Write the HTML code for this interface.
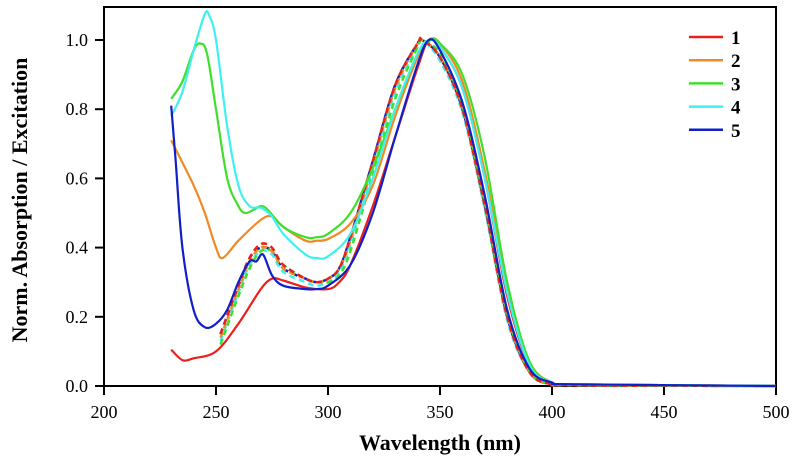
<!DOCTYPE html>
<html><head><meta charset="utf-8"><style>
html,body{margin:0;padding:0;background:#fff;}
svg{display:block;font-family:"Liberation Serif",serif;}
</style></head><body>
<svg id="chart" width="797" height="471">
<rect x="104" y="7" width="672" height="379" fill="none" stroke="#000" stroke-width="2"/>
<g id="axes"></g>
<g id="series"></g>
<g id="legend"></g>
<text x="440" y="450" text-anchor="middle" font-size="22" font-weight="bold">Wavelength (nm)</text>
<text transform="translate(27,200) rotate(-90)" text-anchor="middle" font-size="22" font-weight="bold">Norm. Absorption / Excitation</text>
</svg>
<script>
const xTicks=[200,250,300,350,400,450,500];
const yTicks=[0.0,0.2,0.4,0.6,0.8,1.0];
const seriesNames=["1","2","3","4","5"];
const colors=["#e8201e","#f08a24","#3ee02a","#3ef0f0","#1020c8"];
const absX1=[230,235,240,250,260,270,275,280,290,300,305,310,320,330,340,345,350,360,370,380,390,400,410,500];
const absY1=[0.105,0.075,0.08,0.10,0.18,0.28,0.31,0.305,0.285,0.28,0.30,0.35,0.52,0.72,0.92,1.0,0.98,0.86,0.60,0.26,0.06,0.01,0.005,0];
const absX2=[230,240,245,250,253,260,270,275,280,290,295,300,310,320,330,340,345,350,360,370,380,390,400,410,500];
const absY2=[0.71,0.58,0.50,0.40,0.37,0.42,0.48,0.49,0.46,0.42,0.42,0.425,0.47,0.58,0.78,0.95,1.0,0.99,0.88,0.62,0.28,0.07,0.01,0.005,0];
const absX3=[230,235,240,243,246,250,255,260,263,267,270,273,280,290,295,300,310,320,330,340,346,350,360,370,380,390,400,410,500];
const absY3=[0.83,0.88,0.97,0.99,0.96,0.80,0.60,0.52,0.50,0.51,0.52,0.51,0.46,0.43,0.43,0.44,0.50,0.63,0.80,0.96,1.0,0.99,0.90,0.66,0.30,0.07,0.01,0.005,0];
const absX4=[230,235,240,245,247,250,255,260,265,270,275,280,290,295,300,310,320,330,340,345,350,360,370,380,390,400,410,500];
const absY4=[0.78,0.85,0.97,1.075,1.07,1.0,0.75,0.58,0.52,0.515,0.49,0.44,0.38,0.37,0.375,0.44,0.60,0.80,0.96,1.0,0.98,0.86,0.60,0.27,0.06,0.01,0.005,0];
const absX5=[230,232,235,240,245,250,255,260,265,268,271,275,280,290,295,300,310,320,330,340,345,350,360,370,380,390,400,410,500];
const absY5=[0.81,0.65,0.40,0.22,0.17,0.18,0.22,0.30,0.36,0.36,0.38,0.32,0.29,0.28,0.28,0.29,0.35,0.50,0.72,0.93,1.0,0.97,0.82,0.55,0.22,0.05,0.01,0.005,0];
const excX=[252,260,265,270,275,280,290,295,300,305,310,320,330,340,342,350,360,370,380,390,400,410,500];
const excY1=[0.15,0.29,0.37,0.41,0.40,0.35,0.31,0.30,0.31,0.34,0.43,0.65,0.87,0.99,1.0,0.95,0.80,0.52,0.20,0.04,0.005,0.002,0];
const excY2=[0.14,0.28,0.36,0.40,0.39,0.34,0.31,0.30,0.31,0.34,0.42,0.64,0.86,0.99,1.0,0.95,0.80,0.52,0.20,0.04,0.005,0.002,0];
const excY3=[0.12,0.26,0.34,0.39,0.39,0.35,0.31,0.30,0.30,0.32,0.39,0.61,0.83,0.98,1.0,0.96,0.81,0.53,0.21,0.04,0.005,0.002,0];
const excY4=[0.13,0.27,0.35,0.39,0.38,0.33,0.30,0.29,0.30,0.33,0.41,0.63,0.85,0.98,1.0,0.94,0.79,0.51,0.19,0.04,0.005,0.002,0];
const excY5=[0.15,0.29,0.37,0.40,0.39,0.34,0.31,0.30,0.31,0.34,0.43,0.65,0.87,0.99,1.0,0.95,0.80,0.52,0.20,0.04,0.005,0.002,0];
const NS="http://www.w3.org/2000/svg";
const X=v=>104+(v-200)*(672/300);
const Y=v=>386-v*346;
function mk(tag,attrs,parent){const e=document.createElementNS(NS,tag);for(const k in attrs)e.setAttribute(k,attrs[k]);parent.appendChild(e);return e;}
const axes=document.getElementById('axes');
xTicks.forEach(t=>{
  const l=mk('line',{x1:X(t),x2:X(t),y1:386,y2:395,stroke:'#000','stroke-width':2},axes);
  
  
  const tx=mk('text',{x:X(t),y:418,'text-anchor':'middle','font-size':18},axes);tx.textContent=t;
  
  
});
yTicks.forEach(t=>{
  const l=mk('line',{x1:95,x2:104,y1:Y(t),y2:Y(t),stroke:'#000','stroke-width':2},axes);
  
  
  const tx=mk('text',{x:88,y:Y(t)+6,'text-anchor':'end','font-size':18},axes);tx.textContent=t.toFixed(1);
  
  
});
const ser=document.getElementById('series');
function path(xs,ys){
  const P=xs.map((x,i)=>[X(x),Y(ys[i])]);
  let d='M'+P[0][0].toFixed(1)+','+P[0][1].toFixed(1);
  for(let i=0;i<P.length-1;i++){
    const p0=P[i-1]||P[i],p1=P[i],p2=P[i+1],p3=P[i+2]||P[i+1];
    const t=1/6;
    const c1=[p1[0]+(p2[0]-p0[0])*t,p1[1]+(p2[1]-p0[1])*t];
    const c2=[p2[0]-(p3[0]-p1[0])*t,p2[1]-(p3[1]-p1[1])*t];
    d+='C'+c1[0].toFixed(1)+','+c1[1].toFixed(1)+' '+c2[0].toFixed(1)+','+c2[1].toFixed(1)+' '+p2[0].toFixed(1)+','+p2[1].toFixed(1);
  }
  return d;
}
const absXs=[absX1,absX2,absX3,absX4,absX5],absYs=[absY1,absY2,absY3,absY4,absY5],excYs=[excY1,excY2,excY3,excY4,excY5];
for(let i=4;i>=0;i--){
  const p=mk('path',{d:path(excX,excYs[i]),fill:'none',stroke:colors[i],'stroke-width':2.5,'stroke-dasharray':'6,4'},ser);
  
  
}
for(let i=0;i<5;i++){
  const p=mk('path',{d:path(absXs[i],absYs[i]),fill:'none',stroke:colors[i],'stroke-width':2.2,'stroke-linejoin':'round'},ser);
  
  
}
const lg=document.getElementById('legend');
seriesNames.forEach((n,i)=>{
  const y=37+i*23.2;
  const l=mk('line',{x1:689,x2:723,y1:y,y2:y,stroke:colors[i],'stroke-width':2.5},lg);
  
  
  const t=mk('text',{x:731,y:y+7,'font-size':19,'font-weight':'bold'},lg);t.textContent=n;
  
  
});
</script>
</body></html>
